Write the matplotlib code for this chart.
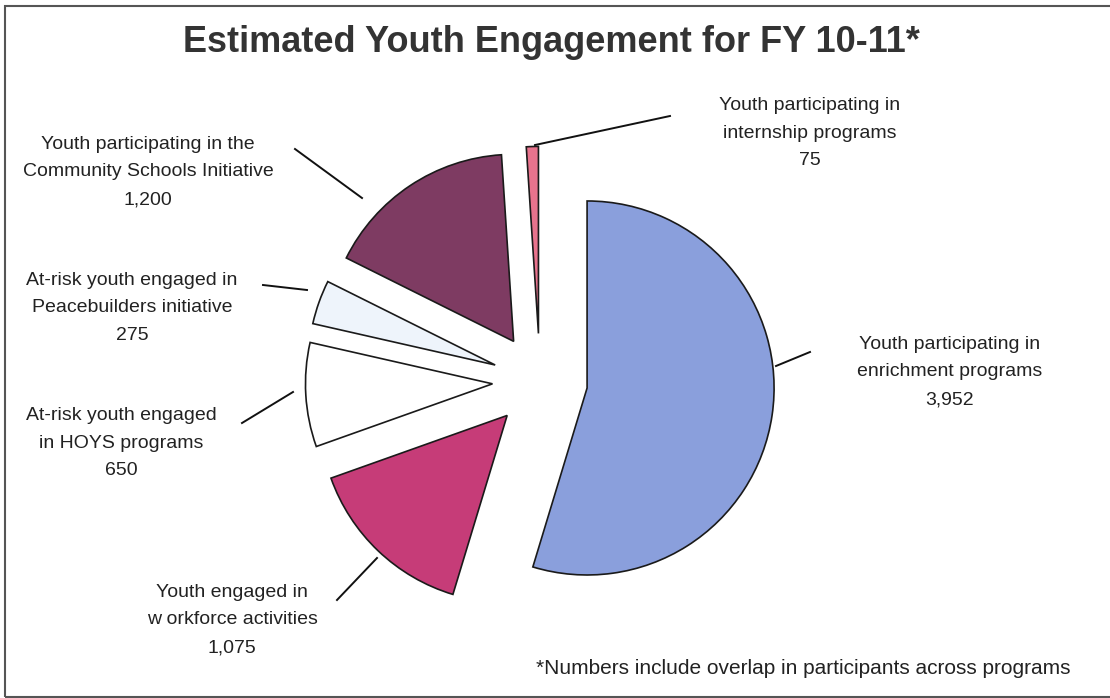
import matplotlib
matplotlib.use("Agg")
import matplotlib.pyplot as plt
from matplotlib.patches import Rectangle

W, H = 1110, 698

categories = [
    "Youth participating in\nenrichment programs",
    "Youth engaged in\nw orkforce activities",
    "At-risk youth engaged\nin HOYS programs",
    "At-risk youth engaged in\nPeacebuilders initiative",
    "Youth participating in the\nCommunity Schools Initiative",
    "Youth participating in\ninternship programs",
]
values = [3952, 1075, 650, 275, 1200, 75]
colors = ["#8a9fdc", "#c63c78", "#ffffff", "#eef4fb", "#7e3b62", "#e8738d"]

title = "Estimated Youth Engagement for FY 10-11*"
footnote = "*Numbers include overlap in participants across programs"

# label placement (pixel coords, y from top) and leader lines
label_pos = [(950, 372), (232, 620), (121, 443), (132, 308), (148, 172), (810, 133)]
leaders = [
    [(776, 366), (810, 352)],
    [(377, 558), (337, 600)],
    [(293, 392), (242, 423)],
    [(307, 290), (263, 285)],
    [(362, 198), (295, 149)],
    [(535, 145), (670, 116)],
]

plt.rcParams['font.family'] = ['Liberation Sans', 'DejaVu Sans']

fig = plt.figure(figsize=(W / 100, H / 100), dpi=100)
ax = fig.add_axes([0, 0, 1, 1])

def fy(y):
    return H - y

cx, cy, r = 540, 381, 187
explode_px = 47.6
ax.pie(values, colors=colors, startangle=90, counterclock=False,
       center=(cx, fy(cy)), radius=r, explode=[explode_px] * len(values),
       wedgeprops=dict(edgecolor="#1a1a1a", linewidth=1.2), frame=True)
ax.set_xlim(0, W)
ax.set_ylim(0, H)
ax.set_aspect('equal')
ax.axis('off')

# frame
ax.add_patch(Rectangle((5, fy(697)), W + 10, 691, fill=False,
                       edgecolor="#555555", linewidth=1.5))

for cat, val, (lx, ly) in zip(categories, values, label_pos):
    ax.text(lx, fy(ly), f"{cat}\n{val:,}", ha="center", va="center",
            fontsize=14, color="#222222", linespacing=1.84)

for seg in leaders:
    (x0, y0), (x1, y1) = seg
    ax.plot([x0, x1], [fy(y0), fy(y1)], color="#111111", linewidth=1.4)

ax.text(551, fy(42), title, ha="center", va="center", fontsize=26,
        fontweight="bold", color="#333333")
ax.text(1070, fy(668), footnote, ha="right", va="center", fontsize=15,
        color="#222222")

fig.savefig("out.png", dpi=100)
